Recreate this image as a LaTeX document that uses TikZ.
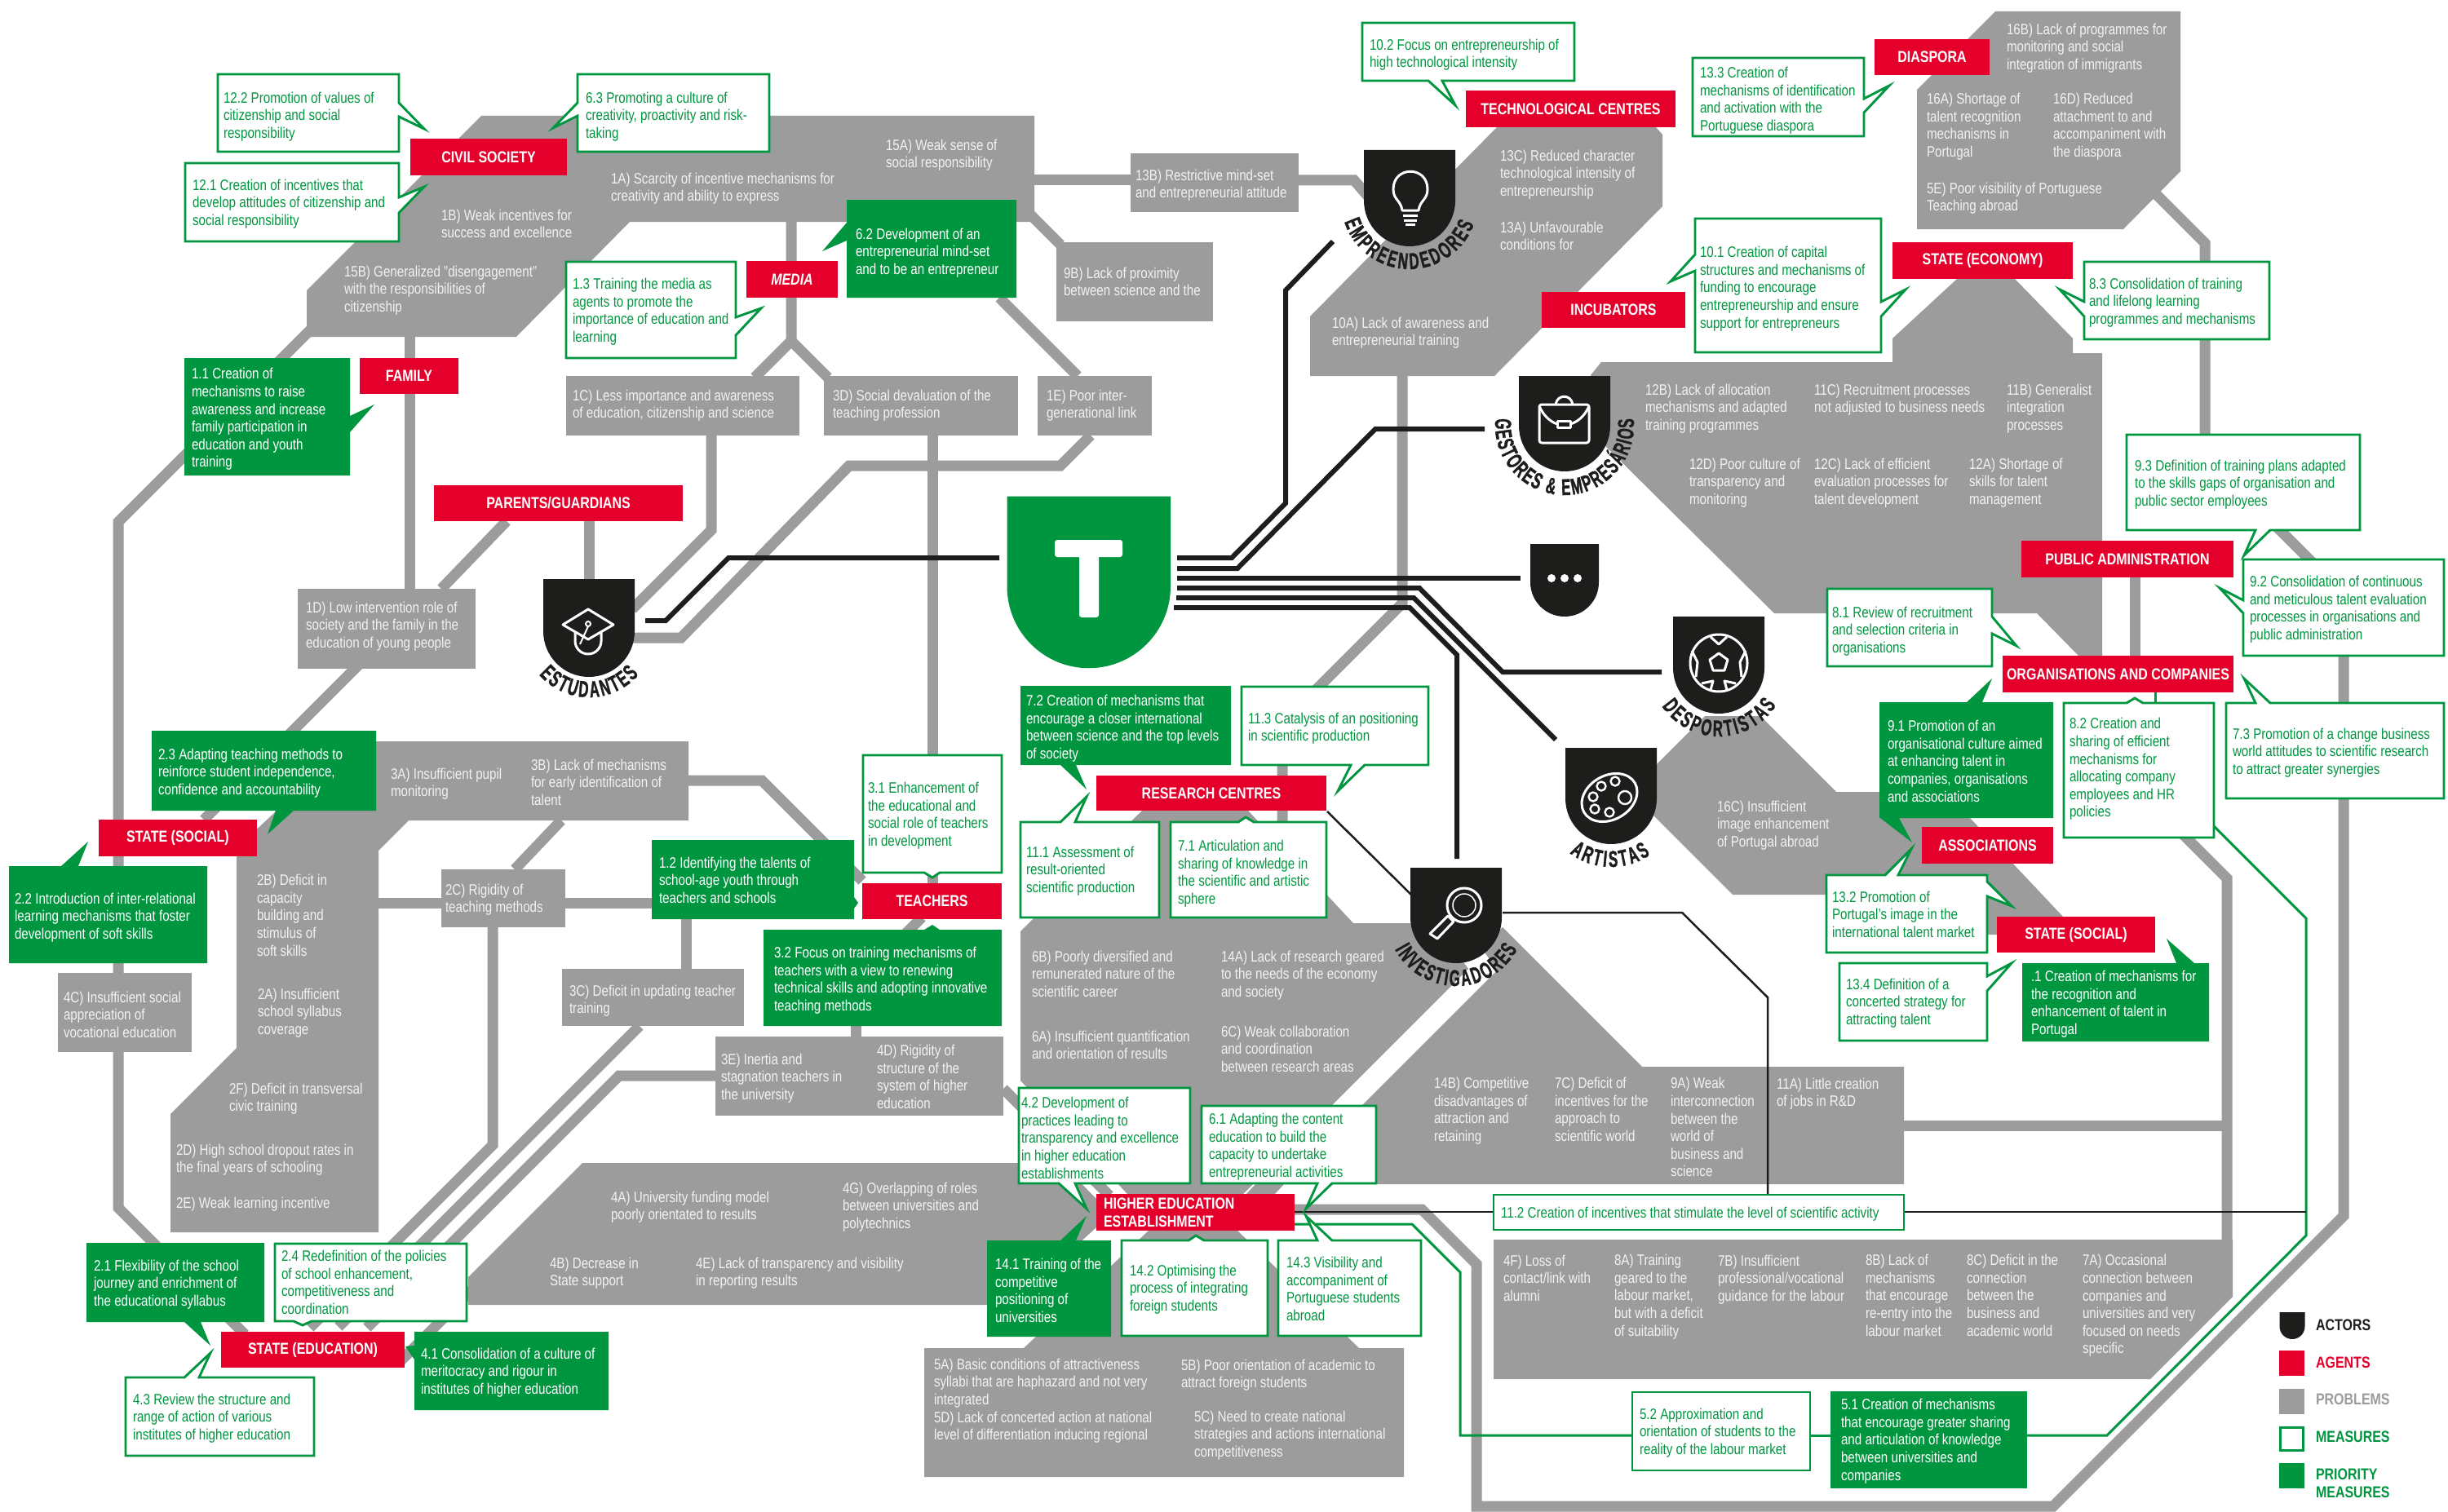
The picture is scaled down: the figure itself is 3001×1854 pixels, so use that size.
\documentclass[tikz,border=0pt]{standalone}
\usepackage{fontspec}
\setmainfont[FakeStretch=0.82]{Liberation Sans}
\newfontfamily\shf[FakeStretch=0.6,FakeBold=1.3]{Liberation Sans Bold}
\usetikzlibrary{decorations.text}
\definecolor{agr}{HTML}{9D9C9C}
\definecolor{ard}{HTML}{E4002B}
\definecolor{agn}{HTML}{009640}
\definecolor{abk}{HTML}{1D1D1B}
\definecolor{awt}{HTML}{F2F2F2}
\tikzset{
 track/.style={draw=agr,line width=13pt},
 pfill/.style={fill=agr},
 thick black/.style={draw=abk,line width=6pt},
 thin black/.style={draw=abk,line width=2.5pt},
 gline/.style={draw=agn,line width=3pt},
 mbox/.style={draw=agn,fill=white,line width=2.9pt,miter limit=20},
 gbox/.style={fill=agn},
 icon/.style={draw=white,line width=3pt,line join=round},
 base/.style={inner sep=0pt,outer sep=0pt,anchor=west,align=left,yshift=-3.5pt,font=\fontsize{18.5}{21.6}\selectfont,execute at begin node=\strut,execute at end node=\strut},
 ptxt/.style={base,text=awt},
 mtxt/.style={base,text=agn},
 gtxt/.style={base,text=white},
 agent/.style={fill=ard,text=white,inner sep=0pt,outer sep=0pt,font=\fontsize{19.5}{21.6}\selectfont\bfseries,align=left},
 pnode/.style={fill=agr,inner sep=0pt,outer sep=0pt},
 lgd/.style={inner sep=0pt,outer sep=0pt,anchor=west,align=left,yshift=-1.5pt,font=\fontsize{19.5}{21.6}\selectfont\bfseries},
}
\newcommand\AGN[6]{\pgfmathsetmacro\myx{(#2+#4)/2}\pgfmathsetmacro\myy{(#3+#5)/2}\pgfmathsetmacro\myw{#4-#2}\pgfmathsetmacro\myh{#5-#3}\node[agent,minimum width=\myw pt,minimum height=\myh pt] (#1) at (\myx,\myy) {#6};}
\newcommand\PBX[5]{\pgfmathsetmacro\myx{(#2+#4)/2}\pgfmathsetmacro\myy{(#3+#5)/2}\pgfmathsetmacro\myw{#4-#2}\pgfmathsetmacro\myh{#5-#3}\node[pnode,minimum width=\myw pt,minimum height=\myh pt] (#1) at (\myx,\myy) {};}
\newcommand\TRK[4]{\coordinate (#1s) at #2; \coordinate (#1e) at #4; \draw[track] (#1s) #3 (#1e);}
\newcommand\PRT[4]{\node[ptxt] (p#1) at (#2,#3) {#4};}
\newcommand\MST[4]{\node[mtxt] (m#1) at (#2,#3) {#4};}
\newcommand\GNT[4]{\node[gtxt] (g#1) at (#2,#3) {#4};}
\newcommand\SHD[5]{\pgfmathsetmacro\myl{#2-#3}\pgfmathsetmacro\myr{#2+#3}\pgfmathsetmacro\myb{#4+#5-#3}\pgfmathsetmacro\myc{#4+#5/2}\fill[abk] (\myl,#4) -- (\myr,#4) -- (\myr,\myb) arc[start angle=0,end angle=-180,radius=#3 pt] -- cycle; \coordinate (#1) at (#2,\myc);}
\newcommand\SHT[6]{\path[decorate,decoration={text along path,text align={fit to path},text={|\shf\fontsize{28}{28}\selectfont\color{abk}|#6}}] (#1,#2) ++(#4:#3 pt) arc[start angle=#4,end angle=#5,radius=#3 pt];}
\begin{document}
\begin{tikzpicture}[x=1pt,y=-1pt]
\useasboundingbox (0,0) rectangle (3001,1854);
\fill[white] (0,0) rectangle (3001,1854);
% ---- tracks
\TRK{t1}{(502,400)}{--}{(502,722)}
\TRK{t2}{(385,400)}{--(145,640)--}{(145,1193)}
\TRK{t3}{(145,1290)}{--(145,1481)--}{(300,1636)}
\TRK{t4}{(621,639)}{--}{(541,722)}
\TRK{t5}{(440,815)}{--}{(250,1005)}
\TRK{t6}{(722,639)}{--}{(722,715)}
\TRK{t7}{(872,534)}{--(872,650)--}{(775,747)}
\TRK{t8}{(770,782)}{--(835,782)--(1041,571)--(1300,571)--}{(1337,534)}
\TRK{t9}{(1143,534)}{--}{(1143,1083)}
\TRK{t10}{(970,272)}{--(970,418)--}{(925,463)}
\TRK{t10b}{(970,418)}{--}{(1015,463)}
\TRK{t11}{(1225,365)}{--}{(1321,461)}
\TRK{t12}{(1262,262)}{--}{(1300,300)}
\TRK{t13}{(1268,221)}{--}{(1386,221)}
\TRK{t13b}{(1592,221)}{--(1660,221)--}{(1685,250)}
\TRK{t14}{(1719,461)}{--(1719,740)--(1572,887)--}{(1572,1010)}
\TRK{t15}{(2640,235)}{--(2703,298)--}{(2703,534)}
\TRK{t16}{(2785,640)}{--(2873,728)--(2873,1491)--(2517,1847)--(1810,1847)--(1810,1550)--(1743,1483)--}{(1587,1483)}
\TRK{t17}{(2617,708)}{--}{(2617,804)}
\TRK{t18}{(2660,1007)}{--(2730,1077)--}{(2730,1530)}
\TRK{t19}{(2334,1380)}{--}{(2730,1380)}
\TRK{t20}{(844,957)}{--(934,957)--}{(1057,1080)}
\TRK{t21}{(688,1006)}{--}{(631,1066)}
\TRK{t22}{(464,1107)}{--}{(541,1107)}
\TRK{t22b}{(693,1107)}{--}{(799,1107)}
\TRK{t23}{(841,1127)}{--}{(841,1188)}
\TRK{t24}{(604,1137)}{--(604,1404)--}{(380,1628)}
\TRK{t25}{(784,1258)}{--}{(415,1627)}
\TRK{t26}{(877,1319)}{--(759,1319)--}{(450,1628)}
\TRK{t27}{(1049,1258)}{--}{(1049,1271)}
\TRK{t27b}{(1130,1125)}{--}{(1110,1145)}
\TRK{t28}{(590,1570)}{--}{(490,1670)}
\TRK{t29}{(1230,1335)}{--}{(1360,1466)}
% ---- problem polygons
\fill[pfill] (590,142)--(1268,142)--(1268,272)--(772,272)--(633,413)--(376,413)--(376,356)--cycle;
\fill[pfill] (1835,156)--(2030,156)--(2038,165)--(2038,253)--(1832,461)--(1606,461)--(1606,388)--cycle;
\fill[pfill] (2446,14)--(2673,14)--(2673,210)--(2603,281)--(2350,281)--(2350,110)--cycle;
\fill[pfill] (1963,444)--(2320,444)--(2320,415)--(2399,342)--(2470,342)--(2541,415)--(2541,433)--(2577,433)--(2577,804)--(2548,804)--(2497,752)--(2175,752)--(1960,539)--(1950,460)--cycle;
\fill[pfill] (1990,978)--(2090,878)--(2158,878)--(2251,971)--(2400,971)--(2415,1003)--(2529,1124)--(2529,1146)--(2300,1146)--(2300,1097)--(2124,1097)--(1990,963)--cycle;
\fill[pfill] (430,909)--(844,909)--(844,1006)--(501,1006)--(464,1043)--(464,1511)--(209,1511)--(209,1366)--(290,1285)--(290,1040)--cycle;
\fill[pfill] (1251,1142)--(1400,994)--(1530,994)--(1659,1132)--(1760,1132)--(1800,1188)--(1523,1465)--(1383,1465)--(1251,1325)--cycle;
\fill[pfill] (1842,1137)--(2013,1308)--(2334,1308)--(2334,1452)--(1573,1452)--(1835,1190)--(1815,1160)--cycle;
\fill[pfill] (1540,1451)--(1575,1451)--(1562,1465)--(1527,1465)--cycle;
\fill[pfill] (714,1426)--(1301,1426)--(1344,1470)--(1344,1505)--(1240,1600)--(574,1600)--(574,1566)--cycle;
\fill[pfill] (1133,1653)--(1255,1653)--(1408,1509)--(1517,1509)--(1666,1653)--(1721,1653)--(1721,1811)--(1133,1811)--cycle;
\fill[pfill] (1831,1520)--(2737,1520)--(2737,1590)--(2636,1691)--(1831,1691)--cycle;
\PBX{b1C}{694}{461}{980}{534}
\PBX{b3D}{1010}{461}{1248}{534}
\PBX{b1E}{1272}{461}{1412}{534}
\PBX{b9B}{1295}{297}{1487}{394}
\PBX{b13B}{1386}{188}{1592}{260}
\PBX{b1D}{365}{722}{583}{820}
\PBX{b2C}{541}{1066}{693}{1137}
\PBX{b3C}{689}{1188}{912}{1258}
\PBX{b4C}{71}{1193}{235}{1290}
\PBX{b3E}{877}{1271}{1230}{1368}
% ---- thin lines
\coordinate (g0) at (2714,1013);
\coordinate (g1) at (2485,1760);
\draw[gline] (g0)--(2827,1126)--(2827,1515)--(2583,1760)--(g1);
\coordinate (g2) at (2244,1760); \coordinate (g3) at (2219,1760);
\draw[gline] (g2)--(g3);
\coordinate (g4) at (2001,1760); \coordinate (g5) at (1587,1501);
\draw[gline] (g4)--(1790,1760)--(1790,1560)--(1731,1501)--(g5);
\coordinate (g6) at (2642,849); \coordinate (g7) at (2642,862);
\draw[gline] (g6)--(g7);
\coordinate (k0) at (1587,1486); \coordinate (k1) at (1831,1486); \coordinate (k2) at (2334,1486); \coordinate (k3) at (2827,1486);
\draw[thin black] (k0)--(k1); \draw[thin black] (k2)--(k3);
\coordinate (k4) at (2167,1465); \coordinate (k5) at (1842,1119);
\draw[thin black] (k4)--(2167,1223)--(2062,1119)--(k5);
\coordinate (k6) at (1627,995); \coordinate (k7) at (1733,1100);
\draw[thin black] (k6)--(k7);
% ---- thick black lines
\coordinate (a0) at (1443,684); \coordinate (a1) at (1634,296);
\draw[thick black] (a0)--(1510,684)--(1576,617)--(1576,356)--(a1);
\coordinate (a2) at (1443,697); \coordinate (a3) at (1820,526);
\draw[thick black] (a2)--(1517,697)--(1686,526)--(a3);
\coordinate (a4) at (1443,709); \coordinate (a5) at (1864,709);
\draw[thick black] (a4)--(a5);
\coordinate (a6) at (1443,721); \coordinate (a7) at (2037,824);
\draw[thick black] (a6)--(1740,721)--(1842,824)--(a7);
\coordinate (a8) at (1442,733); \coordinate (a9) at (1907,907);
\draw[thick black] (a8)--(1733,733)--(a9);
\coordinate (a10) at (1439,745); \coordinate (a11) at (1786,1053);
\draw[thick black] (a10)--(1728,745)--(1786,803)--(a11);
\coordinate (a12) at (1225,684); \coordinate (a13) at (791,761);
\draw[thick black] (a12)--(893,684)--(816,761)--(a13);
% ---- T shield
\fill[agn] (1234.5,608.5)--(1435,608.5)--(1435,719) arc[start angle=0,end angle=-180,radius=100.25pt]--cycle;
\coordinate (tshield) at (1335,714);
\fill[white,rounded corners=3pt] (1293,662) rectangle (1376,683);
\fill[white,rounded corners=3pt] (1323,670) rectangle (1347,757);
% ---- shields
\SHD{sEst}{722}{56}{710}{120}
\SHD{sEmp}{1728}{56}{184}{118}
\SHD{sGes}{1918}{56}{461}{117}
\SHD{sDot}{1918}{42}{667}{89}
\SHD{sDes}{2107}{56}{756}{119}
\SHD{sArt}{1975}{56}{917}{118}
\SHD{sInv}{1785}{56}{1064}{117}
\SHT{722}{774}{81}{221}{319}{ESTUDANTES}
\SHT{1728}{246}{84}{198}{340}{EMPREENDEDORES}
\SHT{1918}{522}{85}{174}{366}{GESTORES {\&} EMPRESÁRIOS}
\SHT{2107}{819}{84}{214}{327}{DESPORTISTAS}
\SHT{1975}{979}{84}{233}{305}{ARTISTAS}
\SHT{1785}{1124}{85}{208}{332}{INVESTIGADORES}
% icons
\draw[icon] (690,766)--(721,747)--(752,766)--(721,784)--cycle;
\draw[icon] (705,774)--(705,786) arc[start angle=180,end angle=360,radius=16pt]--(737,774);
\draw[icon,line width=2pt] (721,765) circle (3pt) (721,768)--(711,790);
\draw[icon] (1719,258) .. controls (1717,245) and (1708,245) .. (1708,232) .. controls (1708,203) and (1750,203) .. (1750,232) .. controls (1750,245) and (1741,245) .. (1739,258) -- cycle;
\draw[icon] (1720,264)--(1738,264) (1721,270)--(1737,270) (1723,275)--(1735,275);
\draw[icon,rounded corners=3pt] (1887,496) rectangle (1948,543);
\draw[icon] (1907,496) .. controls (1909,483) and (1926,483) .. (1928,496);
\draw[icon] (1887,498) .. controls (1893,512) and (1903,518) .. (1909,520) (1925,520) .. controls (1932,518) and (1942,512) .. (1948,498);
\draw[icon] (1909,516) rectangle (1925,524);
\fill[white] (1902,709) circle (5pt) (1918,709) circle (5pt) (1934,709) circle (5pt);
\draw[icon] (2107,813) circle (35pt);
\draw[icon] (2107,801)--(2118,809)--(2114,822)--(2100,822)--(2096,809)--cycle;
\draw[icon] (2097,781)--(2107,790)--(2117,781) (2074,798)--(2081,812)--(2079,830) (2140,798)--(2133,812)--(2135,830) (2086,838)--(2100,835)--(2097,846) (2128,838)--(2114,835)--(2117,846);
\draw[icon] (1973,978) ellipse [x radius=36pt,y radius=27pt,rotate=30];
\draw[icon,line width=2.4pt] (1953,977) circle (5.5pt) (1963,964) circle (5.5pt) (1980,958) circle (5.5pt) (1955,992) circle (5.5pt) (1973,996) circle (5.5pt) (1992,978) circle (8pt);
\draw[icon] (1795,1110) circle (21pt);
\draw[icon,line width=1.5pt] (1795,1110) circle (14pt);
\draw[icon] (1753,1145)--(1762,1151)--(1782,1130)--(1775,1123)--cycle;
% ---- measure boxes (white)
\draw[mbox] (267,91)--(489,91)--(489,126)--(520,158)--(489,143)--(489,186)--(267,186)--cycle;
\draw[mbox] (708,91)--(943,91)--(943,186)--(708,186)--(708,142)--(678,157)--(708,126)--cycle;
\draw[mbox] (227,200)--(489,200)--(489,242)--(520,229)--(489,261)--(489,296)--(227,296)--cycle;
\draw[mbox] (694,321)--(902,321)--(902,389)--(933,378)--(902,411)--(902,439)--(694,439)--cycle;
\draw[mbox] (1670,28)--(1930,28)--(1930,99)--(1768,99)--(1784,129)--(1751,99)--(1670,99)--cycle;
\draw[mbox] (2075,71)--(2285,71)--(2285,121)--(2316,105)--(2285,138)--(2285,167)--(2075,167)--cycle;
\draw[mbox] (2078,268)--(2306,268)--(2306,370)--(2336,355)--(2306,388)--(2306,432)--(2078,432)--(2078,332)--(2048,345)--(2078,312)--cycle;
\draw[mbox] (2555,321)--(2782,321)--(2782,416)--(2555,416)--(2555,388)--(2525,355)--(2555,370)--cycle;
\draw[mbox] (2607,533)--(2893,533)--(2893,650)--(2783,650)--(2751,681)--(2765,650)--(2607,650)--cycle;
\draw[mbox] (2750,686)--(2996,686)--(2996,804)--(2750,804)--(2750,752)--(2721,721)--(2750,736)--cycle;
\draw[mbox] (2240,722)--(2442,722)--(2442,756)--(2472,792)--(2442,777)--(2442,817)--(2240,817)--cycle;
\draw[mbox] (2729,862)--(2765,862)--(2751,832)--(2783,862)--(2996,862)--(2996,979)--(2729,979)--cycle;
\draw[mbox] (2530,862)--(2607,862)--(2617,856)--(2627,862)--(2714,862)--(2714,1027)--(2530,1027)--cycle;
\draw[mbox] (2239,1073)--(2311,1073)--(2343,1041)--(2327,1073)--(2436,1073)--(2436,1081)--(2466,1111)--(2436,1099)--(2436,1168)--(2239,1168)--cycle;
\draw[mbox] (2255,1181)--(2436,1181)--(2436,1197)--(2466,1181)--(2436,1215)--(2436,1276)--(2255,1276)--cycle;
\draw[mbox] (1522,842)--(1751,842)--(1751,938)--(1673,938)--(1640,970)--(1656,938)--(1522,938)--cycle;
\draw[mbox] (1251,1008)--(1300,1008)--(1332,977)--(1318,1008)--(1421,1008)--(1421,1125)--(1251,1125)--cycle;
\draw[mbox] (1435,1008)--(1518,1008)--(1527,1002)--(1537,1008)--(1626,1008)--(1626,1125)--(1435,1125)--cycle;
\draw[mbox] (1058,926)--(1228,926)--(1228,1070)--(1152,1070)--(1143,1076)--(1133,1070)--(1058,1070)--cycle;
\draw[mbox] (337,1525)--(572,1525)--(572,1620)--(382,1620)--(371,1625)--(360,1620)--(337,1620)--cycle;
\draw[mbox] (154,1689)--(226,1689)--(258,1659)--(244,1689)--(385,1689)--(385,1785)--(154,1785)--cycle;
\draw[mbox] (1249,1334)--(1459,1334)--(1459,1451)--(1318,1451)--(1332,1482)--(1298,1451)--(1249,1451)--cycle;
\draw[mbox] (1473,1356)--(1687,1356)--(1687,1451)--(1633,1451)--(1601,1482)--(1615,1451)--(1473,1451)--cycle;
\draw[mbox] (1375,1521)--(1457,1521)--(1466,1515)--(1476,1521)--(1554,1521)--(1554,1638)--(1375,1638)--cycle;
\draw[mbox] (1567,1521)--(1615,1521)--(1601,1491)--(1633,1521)--(1742,1521)--(1742,1638)--(1567,1638)--cycle;
\draw[mbox] (1831,1465)--(2334,1465)--(2334,1508)--(1831,1508)--cycle;
\draw[mbox] (2001,1707)--(2219,1707)--(2219,1803)--(2001,1803)--cycle;
% ---- priority measures (green)
\fill[gbox] (226,439)--(429,439)--(429,510)--(459,496)--(429,530)--(429,583)--(226,583)--cycle;
\fill[gbox] (1038,245)--(1246,245)--(1246,365)--(1038,365)--(1038,295)--(1008,308)--(1038,273)--cycle;
\fill[gbox] (186,896)--(461,896)--(461,994)--(360,994)--(328,1023)--(338,994)--(186,994)--cycle;
\fill[gbox] (11,1062)--(75,1062)--(108,1032)--(96,1062)--(254,1062)--(254,1181)--(11,1181)--cycle;
\fill[gbox] (106,1524)--(324,1524)--(324,1621)--(246,1621)--(258,1650)--(226,1621)--(106,1621)--cycle;
\fill[gbox] (508,1633)--(746,1633)--(746,1729)--(508,1729)--(508,1667)--(497,1651)--(508,1650)--cycle;
\fill[gbox] (1251,841)--(1509,841)--(1509,938)--(1319,938)--(1332,968)--(1300,938)--(1251,938)--cycle;
\fill[gbox] (1210,1521)--(1300,1521)--(1332,1491)--(1319,1521)--(1362,1521)--(1362,1639)--(1210,1639)--cycle;
\fill[gbox] (2479,1181)--(2668,1181)--(2656,1151)--(2690,1181)--(2708,1181)--(2708,1277)--(2479,1277)--cycle;
\fill[gbox] (799,1030)--(1047,1030)--(1047,1100)--(1052,1107)--(1047,1114)--(1047,1127)--(799,1127)--cycle;
\fill[gbox] (936,1140)--(1133,1140)--(1143,1134)--(1152,1140)--(1228,1140)--(1228,1258)--(936,1258)--cycle;
\fill[gbox] (2304,861)--(2411,861)--(2442,832)--(2430,861)--(2517,861)--(2517,1003)--(2328,1003)--(2344,1033)--(2305,1003)--(2304,1003)--cycle;
\fill[gbox] (2244,1706) rectangle (2485,1825);
% ---- agents
\AGN{civil}{503}{170}{695}{215}{CIVIL SOCIETY}
\AGN{family}{441}{439}{562}{483}{FAMILY}
\AGN{parents}{532}{595}{837}{639}{PARENTS/GUARDIANS}
\AGN{media}{915}{320}{1027}{365}{\itshape MEDIA}
\AGN{tech}{1797}{111}{2054}{156}{TECHNOLOGICAL CENTRES}
\AGN{incub}{1890}{358}{2066}{402}{INCUBATORS}
\AGN{diasp}{2298}{48}{2439}{92}{DIASPORA}
\AGN{econ}{2320}{297}{2541}{342}{STATE (ECONOMY)}
\AGN{pubad}{2478}{663}{2738}{708}{PUBLIC ADMINISTRATION}
\AGN{orgs}{2455}{804}{2738}{849}{ORGANISATIONS AND COMPANIES}
\AGN{assoc}{2356}{1014}{2517}{1059}{ASSOCIATIONS}
\AGN{socR}{2448}{1124}{2642}{1168}{STATE (SOCIAL)}
\AGN{socL}{121}{1005}{315}{1050}{STATE (SOCIAL)}
\AGN{rescen}{1344}{951}{1626}{994}{RESEARCH CENTRES}
\AGN{teach}{1057}{1083}{1228}{1127}{TEACHERS}
\AGN{stedu}{271}{1633}{496}{1677}{STATE (EDUCATION)}
\AGN{heest}{1344}{1464}{1587}{1509}{\parbox{225pt}{HIGHER EDUCATION\\ESTABLISHMENT}}
% ---- problem texts
\PRT{1A}{749}{229}{1A) Scarcity of incentive mechanisms for\\creativity and ability to express}
\PRT{1B}{541}{274}{1B) Weak incentives for\\success and excellence}
\PRT{15B}{422}{354}{15B) Generalized "disengagement"\\with the responsibilities of\\citizenship}
\PRT{15A}{1086}{188}{15A) Weak sense of\\social responsibility}
\PRT{1C}{702}{495}{1C) Less importance and awareness\\of education, citizenship and science}
\PRT{3D}{1021}{495}{3D) Social devaluation of the\\teaching profession}
\PRT{1E}{1283}{495}{1E) Poor inter-\\generational link}
\PRT{9B}{1304}{345}{9B) Lack of proximity\\between science and the}
\PRT{13B}{1392}{225}{13B) Restrictive mind-set\\and entrepreneurial attitude}
\PRT{13C}{1839}{212}{13C) Reduced character\\technological intensity of\\entrepreneurship}
\PRT{13A}{1839}{289}{13A) Unfavourable\\conditions for}
\PRT{10A}{1633}{406}{10A) Lack of awareness and\\entrepreneurial training}
\PRT{16B}{2460}{57}{16B) Lack of programmes for\\monitoring and social\\integration of immigrants}
\PRT{16A}{2362}{153}{16A) Shortage of\\talent recognition\\mechanisms in\\Portugal}
\PRT{16D}{2517}{153}{16D) Reduced\\attachment to and\\accompaniment with\\the diaspora}
\PRT{5E}{2362}{241}{5E) Poor visibility of Portuguese\\Teaching abroad}
\PRT{12B}{2017}{499}{12B) Lack of allocation\\mechanisms and adapted\\training programmes}
\PRT{11C}{2224}{488}{11C) Recruitment processes\\not adjusted to business needs}
\PRT{11B}{2460}{499}{11B) Generalist\\integration\\processes}
\PRT{12D}{2071}{590}{12D) Poor culture of\\transparency and\\monitoring}
\PRT{12C}{2224}{590}{12C) Lack of efficient\\evaluation processes for\\talent development}
\PRT{12A}{2414}{590}{12A) Shortage of\\skills for talent\\management}
\PRT{1D}{375}{766}{1D) Low intervention role of\\society and the family in the\\education of young people}
\PRT{3A}{479}{959}{3A) Insufficient pupil\\monitoring}
\PRT{3B}{651}{959}{3B) Lack of mechanisms\\for early identification of\\talent}
\PRT{2B}{315}{1122}{2B) Deficit in\\capacity\\building and\\stimulus of\\soft skills}
\PRT{2A}{316}{1240}{2A) Insufficient\\school syllabus\\coverage}
\PRT{2F}{281}{1345}{2F) Deficit in transversal\\civic training}
\PRT{2D}{216}{1420}{2D) High school dropout rates in\\the final years of schooling}
\PRT{2E}{216}{1474}{2E) Weak learning incentive}
\PRT{2C}{546}{1101}{2C) Rigidity of\\teaching methods}
\PRT{3C}{698}{1225}{3C) Deficit in updating teacher\\training}
\PRT{4C}{78}{1244}{4C) Insufficient social\\appreciation of\\vocational education}
\PRT{3E}{884}{1320}{3E) Inertia and\\stagnation teachers in\\the university}
\PRT{4D}{1075}{1320}{4D) Rigidity of\\structure of the\\system of higher\\education}
\PRT{4A}{749}{1478}{4A) University funding model\\poorly orientated to results}
\PRT{4B}{674}{1559}{4B) Decrease in\\State support}
\PRT{4E}{853}{1559}{4E) Lack of transparency and visibility\\in reporting results}
\PRT{4G}{1033}{1478}{4G) Overlapping of roles\\between universities and\\polytechnics}
\PRT{6B}{1265}{1194}{6B) Poorly diversified and\\remunerated nature of the\\scientific career}
\PRT{14A}{1497}{1194}{14A) Lack of research geared\\to the needs of the economy\\and society}
\PRT{6A}{1265}{1281}{6A) Insufficient quantification\\and orientation of results}
\PRT{6C}{1497}{1286}{6C) Weak collaboration\\and coordination\\between research areas}
\PRT{14B}{1758}{1360}{14B) Competitive\\disadvantages of\\attraction and\\retaining}
\PRT{7C}{1906}{1360}{7C) Deficit of\\incentives for the\\approach to\\scientific world}
\PRT{9A}{2048}{1382}{9A) Weak\\interconnection\\between the\\world of\\business and\\science}
\PRT{11A}{2178}{1339}{11A) Little creation\\of jobs in R\&D}
\PRT{16C}{2105}{1010}{16C) Insufficient\\image enhancement\\of Portugal abroad}
\PRT{5A}{1145}{1694}{5A) Basic conditions of attractiveness\\syllabi that are haphazard and not very\\integrated}
\PRT{5D}{1145}{1748}{5D) Lack of concerted action at national\\level of differentiation inducing regional}
\PRT{5B}{1448}{1684}{5B) Poor orientation of academic to\\attract foreign students}
\PRT{5C}{1464}{1758}{5C) Need to create national\\strategies and actions international\\competitiveness}
\PRT{4F}{1843}{1567}{4F) Loss of\\contact/link with\\alumni}
\PRT{8A}{1979}{1588}{8A) Training\\geared to the\\labour market,\\but with a deficit\\of suitability}
\PRT{7B}{2106}{1567}{7B) Insufficient\\professional/vocational\\guidance for the labour}
\PRT{8B}{2287}{1588}{8B) Lack of\\mechanisms\\that encourage\\re-entry into the\\labour market}
\PRT{8C}{2411}{1588}{8C) Deficit in the\\connection\\between the\\business and\\academic world}
\PRT{7A}{2553}{1599}{7A) Occasional\\connection between\\companies and\\universities and very\\focused on needs\\specific}
% ---- measure texts
\MST{122}{274}{141}{12.2 Promotion of values of\\citizenship and social\\responsibility}
\MST{63}{718}{141}{6.3 Promoting a culture of\\creativity, proactivity and risk-\\taking}
\MST{121}{236}{248}{12.1 Creation of incentives that\\develop attitudes of citizenship and\\social responsibility}
\MST{13}{702}{380}{1.3 Training the media as\\agents to promote the\\importance of education and\\learning}
\MST{102}{1679}{65}{10.2 Focus on entrepreneurship of\\high technological intensity}
\MST{133}{2084}{121}{13.3 Creation of\\mechanisms of identification\\and activation with the\\Portuguese diaspora}
\MST{101}{2084}{352}{10.1 Creation of capital\\structures and mechanisms of\\funding to encourage\\entrepreneurship and ensure\\support for entrepreneurs}
\MST{83}{2561}{369}{8.3 Consolidation of training\\and lifelong learning\\programmes and mechanisms}
\MST{93}{2617}{592}{9.3 Definition of training plans adapted\\to the skills gaps of organisation and\\public sector employees}
\MST{92}{2758}{745}{9.2 Consolidation of continuous\\and meticulous talent evaluation\\processes in organisations and\\public administration}
\MST{81}{2246}{772}{8.1 Review of recruitment\\and selection criteria in\\organisations}
\MST{73}{2737}{921}{7.3 Promotion of a change business\\world attitudes to scientific research\\to attract greater synergies}
\MST{82}{2537}{941}{8.2 Creation and\\sharing of efficient\\mechanisms for\\allocating company\\employees and HR\\policies}
\MST{132}{2246}{1121}{13.2 Promotion of\\Portugal's image in the\\international talent market}
\MST{134}{2263}{1228}{13.4 Definition of a\\concerted strategy for\\attracting talent}
\MST{113}{1530}{891}{11.3 Catalysis of an positioning\\in scientific production}
\MST{111}{1258}{1066}{11.1 Assessment of\\result-oriented\\scientific production}
\MST{71}{1444}{1069}{7.1 Articulation and\\sharing of knowledge in\\the scientific and artistic\\sphere}
\MST{31}{1064}{998}{3.1 Enhancement of\\the educational and\\social role of teachers\\in development}
\MST{24}{345}{1572}{2.4 Redefinition of the policies\\of school enhancement,\\competitiveness and\\coordination}
\MST{43}{163}{1737}{4.3 Review the structure and\\range of action of various\\institutes of higher education}
\MST{42}{1252}{1395}{4.2 Development of\\practices leading to\\transparency and excellence\\in higher education\\establishments}
\MST{61}{1482}{1404}{6.1 Adapting the content\\education to build the\\capacity to undertake\\entrepreneurial activities}
\MST{142}{1385}{1579}{14.2 Optimising the\\process of integrating\\foreign students}
\MST{143}{1577}{1580}{14.3 Visibility and\\accompaniment of\\Portuguese students\\abroad}
\MST{112}{1840}{1486}{11.2 Creation of incentives that stimulate the level of scientific activity}
\MST{52}{2010}{1755}{5.2 Approximation and\\orientation of students to the\\reality of the labour market}
% ---- priority texts
\GNT{11}{235}{512}{1.1 Creation of\\mechanisms to raise\\awareness and increase\\family participation in\\education and youth\\training}
\GNT{62}{1049}{308}{6.2 Development of an\\entrepreneurial mind-set\\and to be an entrepreneur}
\GNT{23}{194}{946}{2.3 Adapting teaching methods to\\reinforce student independence,\\confidence and accountability}
\GNT{22}{18}{1123}{2.2 Introduction of inter-relational\\learning mechanisms that foster\\development of soft skills}
\GNT{21}{115}{1573}{2.1 Flexibility of the school\\journey and enrichment of\\the educational syllabus}
\GNT{41}{516}{1681}{4.1 Consolidation of a culture of\\meritocracy and rigour in\\institutes of higher education}
\GNT{72}{1258}{891}{7.2 Creation of mechanisms that\\encourage a closer international\\between science and the top levels\\of society}
\GNT{141}{1220}{1582}{14.1 Training of the\\competitive\\positioning of\\universities}
\GNT{1x}{2490}{1229}{.1 Creation of mechanisms for\\the recognition and\\enhancement of talent in\\Portugal}
\GNT{12}{808}{1079}{1.2 Identifying the talents of\\school-age youth through\\teachers and schools}
\GNT{32}{949}{1200}{3.2 Focus on training mechanisms of\\teachers with a view to renewing\\technical skills and adopting innovative\\teaching methods}
\GNT{91}{2314}{933}{9.1 Promotion of an\\organisational culture aimed\\at enhancing talent in\\companies, organisations\\and associations}
\GNT{51}{2257}{1765}{5.1 Creation of mechanisms\\that encourage greater sharing\\and articulation of knowledge\\between universities and\\companies}
% ---- legend
\SHD{lgA}{2810}{15.5}{1609}{33}
\fill[ard] (2794,1656) rectangle (2825,1687);
\fill[agr] (2794,1703) rectangle (2825,1734);
\draw[draw=agn,line width=3pt,fill=white] (2795.5,1750.5) rectangle (2823.5,1778);
\fill[agn] (2794,1794) rectangle (2825,1825);
\node[lgd,text=abk] (lA) at (2839,1623) {ACTORS};
\node[lgd,text=ard] (lB) at (2839,1669) {AGENTS};
\node[lgd,text=agr] (lC) at (2839,1714) {PROBLEMS};
\node[lgd,text=agn] (lD) at (2839,1760) {MEASURES};
\node[lgd,text=agn] (lE) at (2839,1817) {PRIORITY\\MEASURES};
\end{tikzpicture}
\end{document}
